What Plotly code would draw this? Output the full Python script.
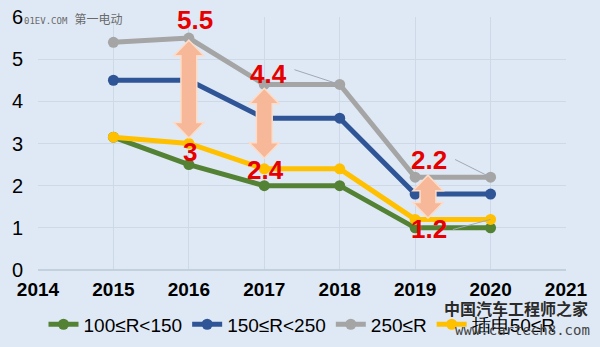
import plotly.graph_objects as go

years = [2015, 2016, 2017, 2018, 2019, 2020]
series_names = ["100≤R<150", "150≤R<250", "250≤R", "插电50≤R"]
r100_150 = [3.15, 2.5, 2.0, 2.0, 1.0, 1.0]
r150_250 = [4.5, 4.5, 3.6, 3.6, 1.8, 1.8]
r250 = [5.4, 5.5, 4.4, 4.4, 2.2, 2.2]
phev50 = [3.15, 3.0, 2.4, 2.4, 1.2, 1.2]
colors = ["#548235", "#2f5597", "#a5a5a5", "#ffc000"]
x_ticks = [2014, 2015, 2016, 2017, 2018, 2019, 2020, 2021]

# gap arrows drawn between the 250≤R and 插电 series
arrow_years = [2016, 2017, 2019]
ARROW_STYLE = {2016: (0.0, -0.05, 0.13), 2017: (0.0, -0.09, 0.25), 2019: (0.17, 0.05, 0.03)}

fig = go.Figure()
order = [r100_150, r150_250, r250, phev50]
for name, vals, col in zip(series_names, order, colors):
    fig.add_trace(go.Scatter(
        x=years, y=vals, name=name, mode="lines+markers",
        line=dict(color=col, width=5),
        marker=dict(color=col, size=11),
    ))

shapes = []
sw, hw, hh = 0.105, 0.2, 0.37
for yr in arrow_years:
    i = years.index(yr)
    off, dtop, dbot = ARROW_STYLE[yr]
    hi = r250[i] + dtop
    lo = phev50[i] + dbot
    cx = yr + off
    path = (f"M {cx},{hi} L {cx+hw},{hi-hh} L {cx+sw},{hi-hh} L {cx+sw},{lo+hh} "
            f"L {cx+hw},{lo+hh} L {cx},{lo} L {cx-hw},{lo+hh} L {cx-sw},{lo+hh} "
            f"L {cx-sw},{hi-hh} L {cx-hw},{hi-hh} Z")
    shapes.append(dict(type="path", path=path, xref="x", yref="y",
                       fillcolor="#f6b898", line=dict(color="#fcdcc8", width=1.5),
                       layer="above"))

# thin leader lines
i18 = years.index(2018)
i20 = years.index(2020)
shapes.append(dict(type="line", xref="x", yref="y", x0=2017.4, y0=4.75,
                   x1=2018, y1=r250[i18], line=dict(color="#a0a8b4", width=1)))
shapes.append(dict(type="line", xref="x", yref="y", x0=2019.53, y0=2.62,
                   x1=2020, y1=r250[i20], line=dict(color="#a0a8b4", width=1)))
shapes.append(dict(type="line", xref="x", yref="y", x0=2019.5, y0=0.96,
                   x1=2020, y1=phev50[i20], line=dict(color="#a0a8b4", width=1)))
fig.update_layout(shapes=shapes)

i16 = years.index(2016)
i17 = years.index(2017)
i19 = years.index(2019)
labels = [
    (2016.08, 5.92, r250[i16]),
    (2016.02, 2.8, phev50[i16]),
    (2017.06, 4.66, r250[i17]),
    (2017.02, 2.37, phev50[i17]),
    (2019.18, 2.6, r250[i19]),
    (2019.18, 0.98, phev50[i19]),
]
for x, y, v in labels:
    fig.add_annotation(x=x, y=y, xref="x", yref="y", text=f"{v:g}", showarrow=False,
                       font=dict(family="Liberation Sans, Arial", size=26, color="#e60000",
                                 weight="bold"))

# watermarks
fig.add_annotation(xref="paper", yref="paper", x=-0.03, y=0.99, xanchor="left", yanchor="middle",
                   text="<span style='font-size:9px'>01EV.COM</span> 第一电动", showarrow=False,
                   font=dict(family="DejaVu Sans Mono, Noto Sans CJK SC", size=12, color="#6a6a6a"))
fig.add_annotation(xref="paper", yref="paper", x=1.045, y=-0.15, xanchor="right", yanchor="middle",
                   text="中国汽车工程师之家", showarrow=False,
                   font=dict(family="Noto Sans CJK SC", size=16, color="#2a2a2a", weight="bold"))
fig.add_annotation(xref="paper", yref="paper", x=1.05, y=-0.237, xanchor="right", yanchor="middle",
                   text="www.cartech8.com", showarrow=False,
                   font=dict(family="DejaVu Sans Mono", size=14, color="#444444"))

fig.update_layout(
    width=600, height=347,
    margin=dict(l=38, r=34, t=17, b=77, autoexpand=False),
    paper_bgcolor="#dfe9f5",
    plot_bgcolor="#dfe9f5",
    font=dict(family="Liberation Sans, Arial", color="#000000"),
    showlegend=True,
    legend=dict(orientation="h", x=0.5, xanchor="center", y=-0.215, yanchor="middle",
                font=dict(size=19), itemwidth=30, tracegroupgap=0,
                bgcolor="rgba(0,0,0,0)"),
    xaxis=dict(range=[2014, 2021], tickvals=x_ticks, ticktext=[str(t) for t in x_ticks],
               showgrid=True, gridcolor="#cdd9e6", gridwidth=1, zeroline=False,
               showline=False, tickfont=dict(size=19, weight="bold"), ticklen=0,
               ticklabelstandoff=6),
    yaxis=dict(range=[0, 6], tickvals=[0, 1, 2, 3, 4, 5, 6], showgrid=True,
               gridcolor="#cdd9e6", gridwidth=1, zeroline=True, zerolinecolor="#c3d0de",
               zerolinewidth=1.5, tickfont=dict(size=20), ticklen=0,
               ticklabelstandoff=14),
)

fig.write_html("out.html")
